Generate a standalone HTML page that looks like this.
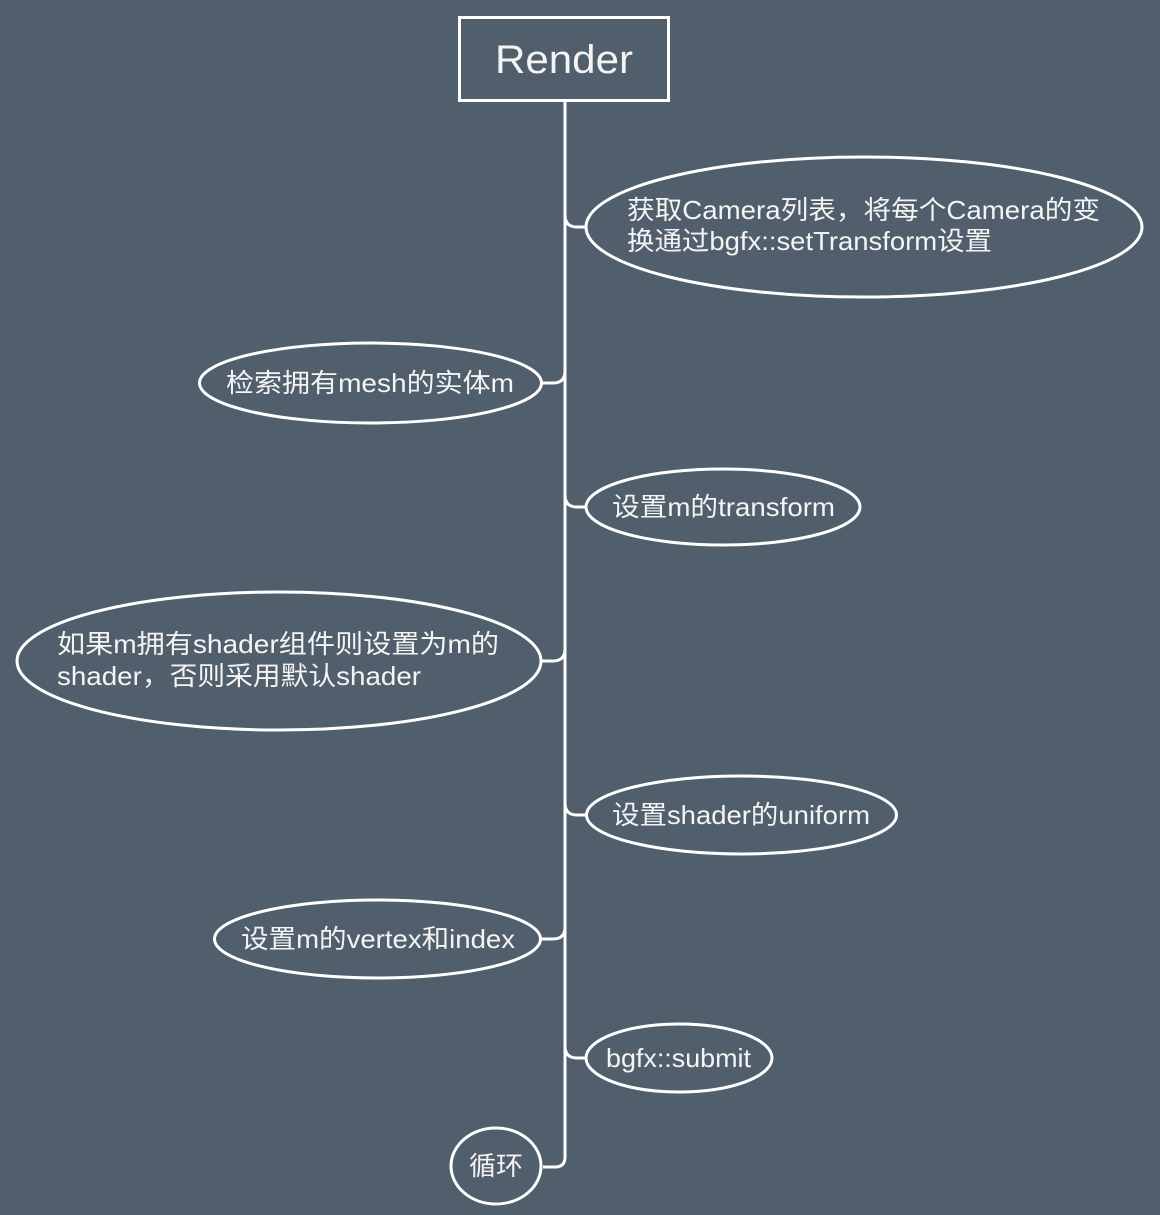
<!DOCTYPE html>
<html><head><meta charset="utf-8"><style>
html,body{margin:0;padding:0;background:#505f6b;}
svg{display:block}
text{font-family:"Liberation Sans","Noto Sans CJK SC",sans-serif;fill:#f4f4f4;font-size:25px;}
</style></head><body>
<svg width="1160" height="1215" viewBox="0 0 1160 1215" xmlns="http://www.w3.org/2000/svg">
<rect width="1160" height="1215" fill="#505f6b"/>
<g fill="none" stroke="#fff" stroke-width="3">
<rect x="459.5" y="17.5" width="209" height="83"/>
<path d="M565 100 L565 1157 Q565 1167 555 1167 L543 1167"/>
<path d="M565 215 Q565 227 577 227 L587 227"/>
<path d="M565 371 Q565 383 553 383 L541 383"/>
<path d="M565 495 Q565 507 577 507 L587 507"/>
<path d="M565 649 Q565 661 553 661 L541 661"/>
<path d="M565 803 Q565 815 577 815 L587 815"/>
<path d="M565 927 Q565 939 553 939 L541 939"/>
<path d="M565 1046 Q565 1058 577 1058 L587 1058"/>
<ellipse cx="864" cy="227" rx="278" ry="70"/>
<ellipse cx="370.5" cy="383" rx="171" ry="40"/>
<ellipse cx="723" cy="507" rx="137" ry="38"/>
<ellipse cx="279" cy="661" rx="262" ry="69"/>
<ellipse cx="741.5" cy="815" rx="155" ry="39"/>
<ellipse cx="377.5" cy="939" rx="163" ry="39"/>
<ellipse cx="679" cy="1058" rx="93" ry="34"/>
<ellipse cx="496" cy="1166" rx="45" ry="38"/>
</g>
<text x="495" y="73" textLength="138" lengthAdjust="spacingAndGlyphs" style="font-size:40px">Render</text>
<text x="627" y="219" textLength="473" lengthAdjust="spacingAndGlyphs" style="font-size:26px">获取Camera列表，将每个Camera的变</text>
<text x="627" y="250" textLength="365" lengthAdjust="spacingAndGlyphs" style="font-size:26px">换通过bgfx::setTransform设置</text>
<text x="226" y="392" textLength="288" lengthAdjust="spacingAndGlyphs" style="font-size:26px">检索拥有mesh的实体m</text>
<text x="612" y="516" textLength="223" lengthAdjust="spacingAndGlyphs" style="font-size:26px">设置m的transform</text>
<text x="57" y="653" textLength="442" lengthAdjust="spacingAndGlyphs" style="font-size:26px">如果m拥有shader组件则设置为m的</text>
<text x="57" y="685" textLength="364" lengthAdjust="spacingAndGlyphs" style="font-size:26px">shader，否则采用默认shader</text>
<text x="612" y="824" textLength="258" lengthAdjust="spacingAndGlyphs" style="font-size:26px">设置shader的uniform</text>
<text x="241" y="948" textLength="274" lengthAdjust="spacingAndGlyphs" style="font-size:26px">设置m的vertex和index</text>
<text x="606" y="1067" textLength="145" lengthAdjust="spacingAndGlyphs" style="font-size:26px">bgfx::submit</text>
<text x="469" y="1175" textLength="54" lengthAdjust="spacingAndGlyphs" style="font-size:26px">循环</text>
</svg>
</body></html>
